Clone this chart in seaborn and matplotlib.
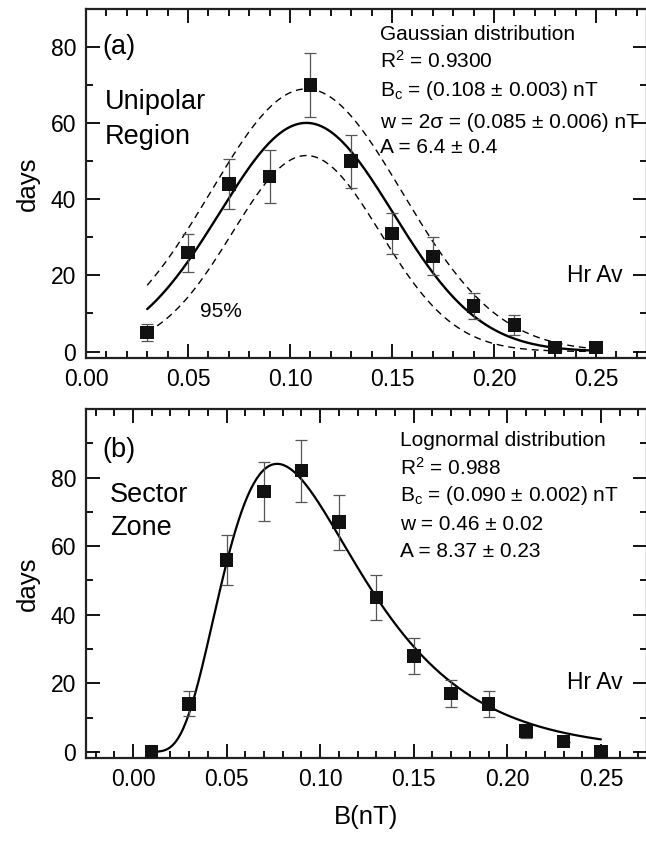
import numpy as np
import pandas as pd
import seaborn as sns
import matplotlib.pyplot as plt
from matplotlib.ticker import FixedLocator, MultipleLocator, FormatStrFormatter

# panel (a) - unipolar region
b_a = [0.03, 0.05, 0.07, 0.09, 0.11, 0.13, 0.15, 0.17, 0.19, 0.21, 0.23, 0.25]
days_a = [5, 26, 44, 46, 70, 50, 31, 25, 12, 7, 1, 1]
err_a = [2.2, 5.0, 6.5, 7.0, 8.4, 7.0, 5.4, 5.0, 3.5, 2.6, 0.8, 0.8]

# gaussian fit from the legend, plus the 95% band
gauss_bc = 0.108
gauss_w = 0.085
gauss_A = 6.4
band_hi_peak, band_hi_w = 69.0, 0.094
band_lo_peak, band_lo_w = 51.5, 0.0725

# panel (b) - sector zone
b_b = [0.01, 0.03, 0.05, 0.07, 0.09, 0.11, 0.13, 0.15, 0.17, 0.19, 0.21, 0.23, 0.25]
days_b = [0, 14, 56, 76, 82, 67, 45, 28, 17, 14, 6, 3, 0]
err_b = [0, 3.6, 7.3, 8.6, 9.0, 8.0, 6.5, 5.2, 4.0, 3.7, 2.0, 0, 0]

# lognormal curve as drawn
logn_xc = 0.096
logn_w = 0.47
logn_peak = 84.0

text_a = ["Gaussian distribution", r"R$\mathregular{^2}$ = 0.9300",
          r"B$\mathregular{_c}$ = (0.108 ± 0.003) nT",
          "w = 2σ = (0.085 ± 0.006) nT", "A = 6.4 ± 0.4"]
text_b = ["Lognormal distribution", r"R$\mathregular{^2}$ = 0.988",
          r"B$\mathregular{_c}$ = (0.090 ± 0.002) nT",
          "w = 0.46 ± 0.02", "A = 8.37 ± 0.23"]


def gauss(x, peak, w, xc=gauss_bc):
    return peak * np.exp(-2 * (x - xc) ** 2 / w ** 2)


def lognorm(x):
    mode = logn_xc * np.exp(-logn_w ** 2)
    return logn_peak * (mode / x) * np.exp(-np.log(x / logn_xc) ** 2 / (2 * logn_w ** 2) + logn_w ** 2 / 2)


sns.set_style("ticks")
plt.rcParams['font.family'] = ['Liberation Sans', 'DejaVu Sans']
plt.rcParams['axes.linewidth'] = 1.6
plt.rcParams['text.color'] = 'black'
plt.rcParams['axes.labelcolor'] = 'black'
plt.rcParams['xtick.color'] = 'black'
plt.rcParams['ytick.color'] = 'black'
plt.rcParams['axes.edgecolor'] = '#222222'

fig = plt.figure(figsize=(6.46, 8.42), dpi=100)
ax1 = fig.add_axes([86 / 646, 1 - 358 / 842, 561 / 646, 349 / 842])
ax2 = fig.add_axes([86 / 646, 1 - 758 / 842, 561 / 646, 349 / 842])

# curves
xa = np.linspace(0.03, 0.25, 300)
gauss_peak = gauss_A / (gauss_w * np.sqrt(np.pi / 2))
curve_a = pd.DataFrame({"B": xa, "fit": gauss(xa, gauss_peak, gauss_w),
                        "hi": gauss(xa, band_hi_peak, band_hi_w),
                        "lo": gauss(xa, band_lo_peak, band_lo_w)})
sns.lineplot(data=curve_a, x="B", y="fit", ax=ax1, color="black", lw=1.7)
for c in ["hi", "lo"]:
    sns.lineplot(data=curve_a, x="B", y=c, ax=ax1, color="black", lw=1.0,
                 dashes=False, linestyle=(0, (5, 3.5)))

xb = np.linspace(0.01, 0.25, 300)
curve_b = pd.DataFrame({"B": xb, "fit": lognorm(xb)})
sns.lineplot(data=curve_b, x="B", y="fit", ax=ax2, color="black", lw=1.6)

# points with error bars
for ax, bx, dy, er in [(ax1, b_a, days_a, err_a), (ax2, b_b, days_b, err_b)]:
    ax.errorbar(bx, dy, yerr=er, fmt="none", ecolor="#555555", elinewidth=0.9,
                capsize=4.5, capthick=0.9, zorder=3)
    pts = pd.DataFrame({"B": bx, "days": dy})
    sns.scatterplot(data=pts, x="B", y="days", ax=ax, marker="s", s=95,
                    color="#111111", edgecolor="none", zorder=4)

ax1.set_xlim(0.0, 0.275)
ax1.set_ylim(-1.7, 90)
ax2.set_xlim(-0.0251, 0.2746)
ax2.set_ylim(-1.8, 100)

for ax in [ax1, ax2]:
    ax.xaxis.set_major_locator(FixedLocator([0.0, 0.05, 0.10, 0.15, 0.20, 0.25]))
    ax.xaxis.set_minor_locator(MultipleLocator(0.01))
    ax.xaxis.set_major_formatter(FormatStrFormatter("%.2f"))
    ax.yaxis.set_major_locator(FixedLocator([0, 20, 40, 60, 80]))
    ax.yaxis.set_minor_locator(FixedLocator([10, 30, 50, 70, 90]))
    ax.tick_params(which="both", direction="in", top=True, right=True,
                   width=1.3, labelsize=16.5, pad=7)
    ax.tick_params(which="major", length=10)
    ax.tick_params(which="minor", length=5)
    for s in ax.spines.values():
        s.set_visible(True)
    ax.set_ylabel("days", fontsize=18.5, labelpad=8)
    ax.set_xlabel("")

ax2.set_xlabel("B(nT)", fontsize=18.5, labelpad=10)

# panel labels
ax1.text(0.030, 0.891, "(a)", transform=ax1.transAxes, fontsize=19.5, va="center")
ax1.text(0.034, 0.734, "Unipolar", transform=ax1.transAxes, fontsize=19.5, va="center")
ax1.text(0.034, 0.633, "Region", transform=ax1.transAxes, fontsize=19.5, va="center")
ax1.text(0.203, 0.117, "95%", transform=ax1.transAxes, fontsize=15, va="baseline")
ax1.text(0.957, 0.235, "Hr Av", transform=ax1.transAxes, fontsize=16.5, va="center", ha="right")
for t, yb in zip(text_a, [0.911, 0.831, 0.751, 0.659, 0.587]):
    ax1.text(0.524, yb, t, transform=ax1.transAxes, fontsize=15, va="baseline")

ax2.text(0.030, 0.883, "(b)", transform=ax2.transAxes, fontsize=19.5, va="center")
ax2.text(0.043, 0.754, "Sector", transform=ax2.transAxes, fontsize=19.5, va="center")
ax2.text(0.043, 0.659, "Zone", transform=ax2.transAxes, fontsize=19.5, va="center")
ax2.text(0.957, 0.215, "Hr Av", transform=ax2.transAxes, fontsize=16.5, va="center", ha="right")
for t, yb in zip(text_b, [0.894, 0.811, 0.736, 0.653, 0.576]):
    ax2.text(0.560, yb, t, transform=ax2.transAxes, fontsize=15, va="baseline")

fig.savefig("out.png", dpi=100)
